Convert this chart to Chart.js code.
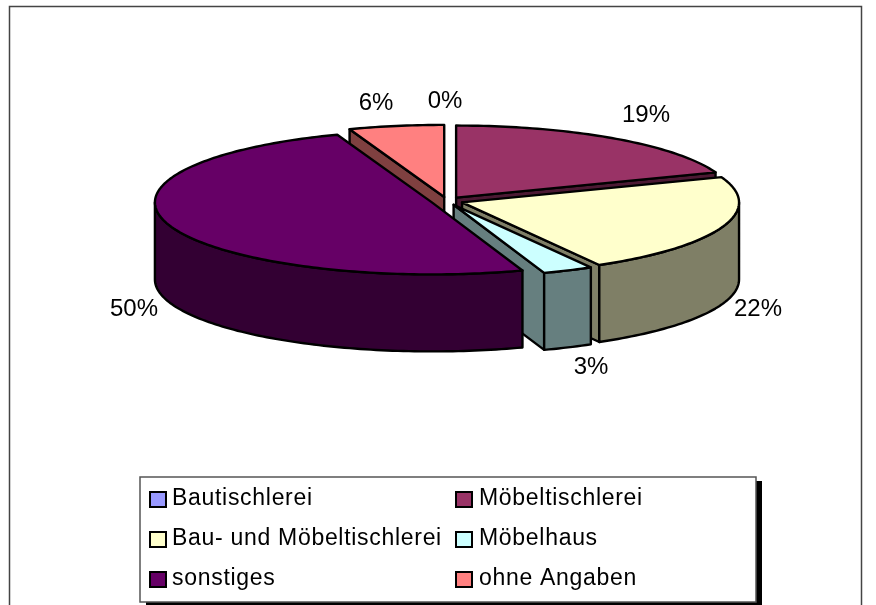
<!DOCTYPE html>
<html>
<head>
<meta charset="utf-8">
<title>Tischlerei</title>
<script src="https://cdn.jsdelivr.net/npm/chart.js@4"></script>
<style>
  html, body { margin: 0; padding: 0; background: #fff; overflow: hidden; }
  canvas { display: block; }
</style>
</head>
<body>
<canvas id="chart" width="876" height="605"></canvas>
<script>
const categories = ['Bautischlerei', 'Möbeltischlerei', 'Bau- und Möbeltischlerei', 'Möbelhaus', 'sonstiges', 'ohne Angaben'];
// labels show these rounded, the slice edges in the picture give the decimals
const shares = [0, 19.3, 22.45, 2.95, 49.75, 5.55];
const sliceColors = ['#9999FF', '#993366', '#FFFFCC', '#CCFFFF', '#660066', '#FF8080'];

// look of the 3d pie
const CENTER_Y = 201;
const SQUASH = 0.26;
const DEPTH = 77;
const EXPLODE = 16;
// back to front
const drawOrder = [0, 5, 1, 2, 3, 4];
// where the percent labels sit (text center)
const labelSpots = [[445, 101], [646, 115], [758, 309], [591, 367], [134, 309], [376, 103]];

// half as bright, for the side walls
function darker(hex) {
  const n = parseInt(hex.slice(1), 16);
  const r = (n >> 16) >> 1, g = ((n >> 8) & 255) >> 1, b = (n & 255) >> 1;
  return `rgb(${r},${g},${b})`;
}

const pie3d = {
  id: 'pie3d',
  beforeDatasetsDraw(chart) {
    const ctx = chart.ctx;
    const arcs = chart.getDatasetMeta(0).data;

    drawOrder.forEach((i) => {
      const arc = arcs[i];
      const { x, y, startAngle, endAngle, outerRadius } = arc;
      if (shares[i] === 0) return;
      const mid = (startAngle + endAngle) / 2;
      const dx = Math.cos(mid) * EXPLODE;
      const dy = Math.sin(mid) * EXPLODE;
      // from the circle of the chart to the flat ellipse on screen
      const px = (a, r) => x + dx + Math.cos(a) * r;
      const py = (a, r) => CENTER_Y + (dy + Math.sin(a) * r) * SQUASH;

      ctx.save();
      ctx.lineWidth = 2.4;
      ctx.lineJoin = 'round';
      ctx.strokeStyle = '#000';
      ctx.fillStyle = darker(sliceColors[i]);

      // cut faces, only the ones turned to the viewer
      [[startAngle, -Math.cos(startAngle)], [endAngle, Math.cos(endAngle)]].forEach(([a, facing]) => {
        if (facing <= 0) return;
        ctx.beginPath();
        ctx.moveTo(px(a, 0), py(a, 0));
        ctx.lineTo(px(a, outerRadius), py(a, outerRadius));
        ctx.lineTo(px(a, outerRadius), py(a, outerRadius) + DEPTH);
        ctx.lineTo(px(a, 0), py(a, 0) + DEPTH);
        ctx.closePath();
        ctx.fill();
        ctx.stroke();
      });

      // outer wall, front half of the ellipse only
      const from = Math.max(startAngle, 0);
      const to = Math.min(endAngle, Math.PI);
      if (to > from) {
        const steps = Math.ceil((to - from) / 0.02);
        ctx.beginPath();
        for (let s = 0; s <= steps; s++) {
          const a = from + (to - from) * s / steps;
          ctx.lineTo(px(a, outerRadius), py(a, outerRadius));
        }
        for (let s = steps; s >= 0; s--) {
          const a = from + (to - from) * s / steps;
          ctx.lineTo(px(a, outerRadius), py(a, outerRadius) + DEPTH);
        }
        ctx.closePath();
        ctx.fill();
        ctx.stroke();
      }

      // top of the slice is the chart's own arc element
      ctx.save();
      ctx.translate(x + dx, CENTER_Y + dy * SQUASH);
      ctx.scale(1, SQUASH);
      ctx.translate(-x, -y);
      arc.draw(ctx);
      ctx.restore();

      // outline after the scale so the line keeps its width
      const steps = Math.ceil((endAngle - startAngle) / 0.02);
      ctx.beginPath();
      ctx.moveTo(px(0, 0), py(0, 0));
      for (let s = 0; s <= steps; s++) {
        const a = startAngle + (endAngle - startAngle) * s / steps;
        ctx.lineTo(px(a, outerRadius), py(a, outerRadius));
      }
      ctx.closePath();
      ctx.stroke();
      ctx.restore();
    });

    // percent labels
    ctx.save();
    ctx.font = '24px "Liberation Sans", Arial, sans-serif';
    ctx.fillStyle = '#000';
    ctx.textAlign = 'center';
    ctx.textBaseline = 'middle';
    shares.forEach((v, i) => {
      ctx.fillText(Math.round(v) + '%', labelSpots[i][0], labelSpots[i][1]);
    });
    ctx.restore();
    return false;
  },
  afterDraw(chart) {
    const ctx = chart.ctx;
    ctx.save();
    // outer frame
    ctx.strokeStyle = '#444';
    ctx.lineWidth = 1.5;
    ctx.strokeRect(9.5, 6.5, 852, 640);
    // legend box with its hard shadow
    ctx.fillStyle = '#000';
    ctx.fillRect(146, 481, 616, 130);
    ctx.fillStyle = '#fff';
    ctx.fillRect(140, 477, 616, 125);
    ctx.strokeStyle = '#555';
    ctx.strokeRect(140, 477, 616, 125);

    ctx.font = '23px "Liberation Sans", Arial, sans-serif';
    ctx.letterSpacing = '0.7px';
    ctx.textBaseline = 'alphabetic';
    categories.forEach((name, i) => {
      const col = i % 2, row = Math.floor(i / 2);
      const sx = col ? 456 : 150;
      const sy = 492 + row * 40;
      ctx.fillStyle = sliceColors[i];
      ctx.fillRect(sx, sy, 16, 15);
      ctx.strokeStyle = '#000';
      ctx.lineWidth = 2;
      ctx.strokeRect(sx, sy, 16, 15);
      ctx.fillStyle = '#000';
      ctx.fillText(name, col ? 479 : 172, 505 + row * 40);
    });
    ctx.restore();
  }
};

new Chart(document.getElementById('chart'), {
  type: 'pie',
  data: {
    labels: categories,
    datasets: [{ data: shares, backgroundColor: sliceColors, borderWidth: 0 }]
  },
  options: {
    responsive: false,
    animation: false,
    events: [],
    layout: { padding: { left: 170, right: 152, top: 14, bottom: 37 } },
    plugins: { legend: { display: false }, tooltip: { enabled: false } }
  },
  plugins: [pie3d]
});
</script>
</body>
</html>
